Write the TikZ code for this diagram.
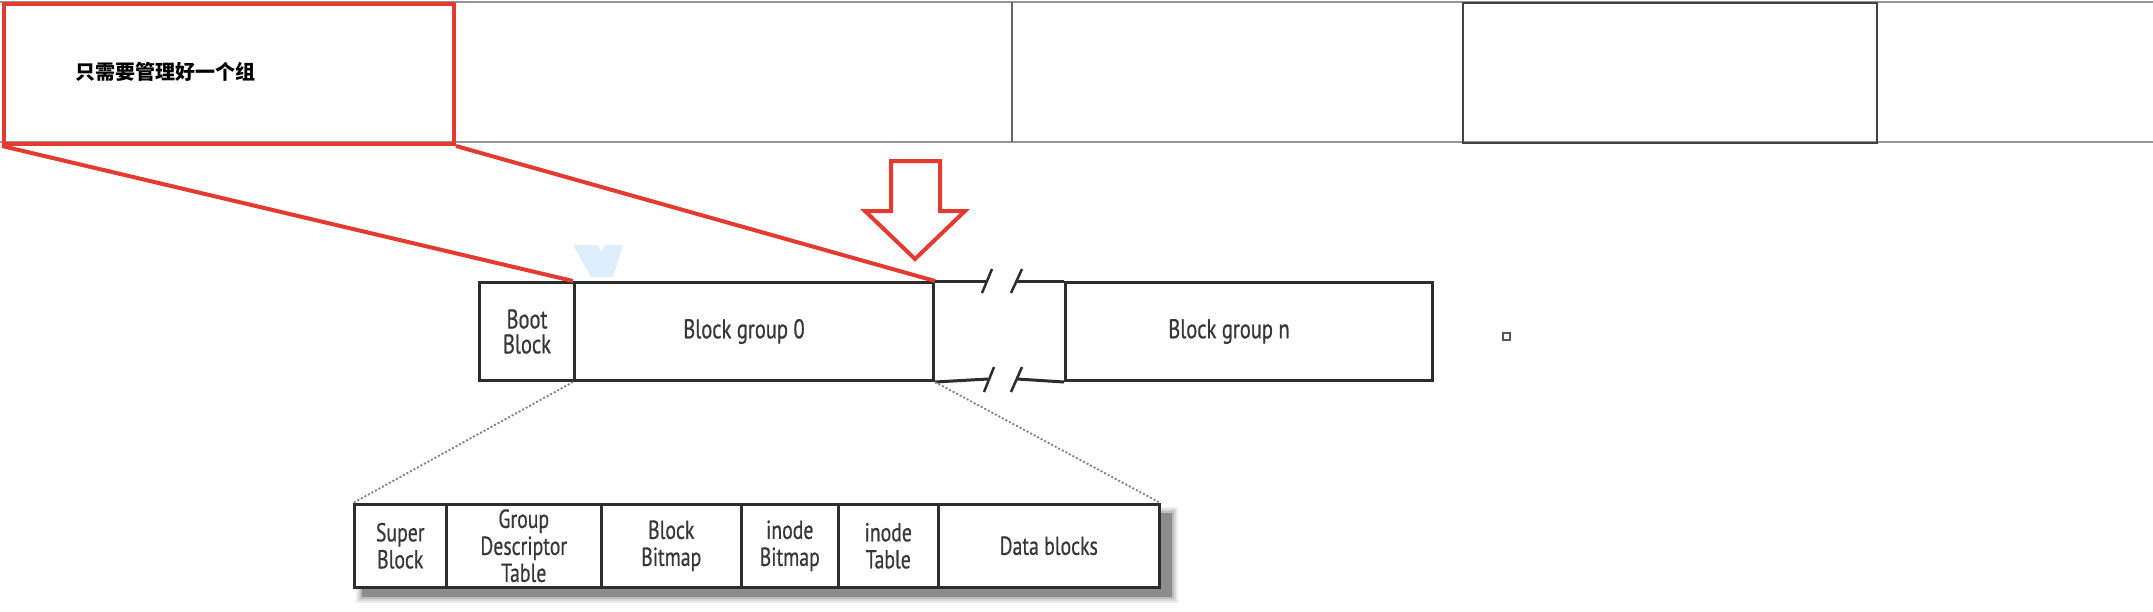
\documentclass[tikz,border=0pt]{standalone}
\usepackage{fontspec}
\newfontfamily\cjk{Noto Sans CJK SC}
\newfontfamily\diag[FakeStretch=0.76,FakeBold=0.6]{PT Sans}
\definecolor{redline}{RGB}{228,58,48}
\definecolor{txt}{RGB}{55,55,55}
\definecolor{frame}{RGB}{45,45,45}
\definecolor{toprule}{RGB}{150,150,150}
\definecolor{wm}{RGB}{222,238,250}
\tikzset{
  barbox/.style={draw=frame, line width=3pt, inner sep=0pt, anchor=north west, font=\diag\fontsize{27}{26}\selectfont, text=txt, align=center},
  subbox/.style={draw=frame, line width=2.5pt, inner sep=0pt, anchor=north west, fill=white, font=\diag\fontsize{26}{27}\selectfont, text=txt, align=center},
  redpen/.style={draw=redline, line width=4pt},
  dots/.style={draw=gray, line width=1.8pt, dash pattern=on 2pt off 2pt},
  cell/.style={inner sep=0pt, anchor=north west}
}
\begin{document}
\begin{tikzpicture}[x=1pt,y=-1pt]
\useasboundingbox (0,0) rectangle (2153,611);
\fill[white] (0,0) rectangle (2153,611);
% top row
\draw[toprule, line width=2pt] (0,2) -- (2153,2);
\draw[toprule, line width=2pt] (0,142) -- (2153,142);
\draw[draw=gray!80!black, line width=1.5pt] (1012,2) -- (1012,142);
\node[cell, draw=frame!90, line width=2pt, minimum width=414pt, minimum height=140pt] (c4) at (1462,2) {};
\node[cell, redpen, minimum width=450pt, minimum height=140pt] (red) at (2,2) {};
\node[anchor=west, inner sep=0pt, font=\cjk\bfseries\fontsize{20}{22}\selectfont] (note) at (75,72) {只需要管理好一个组};
% watermark
\fill[wm] (573,245) -- (598,245) -- (601,252) -- (605,245) -- (623,245) -- (613,277) -- (591,277) -- cycle;
% main bar
\node[barbox, minimum width=95pt, minimum height=98pt] (boot) at (478,281) {Boot\\[-1pt]Block};
\node[barbox, minimum width=359pt, minimum height=98pt] (bg0) at (573,281) {\hspace*{-20pt}Block group 0};
\node[barbox, minimum width=367pt, minimum height=98pt] (bgn) at (1064,281) {\hspace*{-40pt}Block group n};
\coordinate (t1) at (987,281);
\coordinate (t2) at (1016,281);
\coordinate (b1) at (988,379);
\coordinate (b2) at (1017,379);
\draw[frame, line width=3pt] (bg0.north east) -- (t1);
\draw[frame, line width=3pt] (t2) -- (bgn.north west);
\draw[frame, line width=3pt] (bg0.south east) -- (b1);
\draw[frame, line width=3pt] (b2) -- (bgn.south west);
\draw[frame, line width=2.5pt] (992,269) -- (982,293);
\draw[frame, line width=2.5pt] (1022,269) -- (1011,293);
\draw[frame, line width=2.5pt] (994,367) -- (984,392);
\draw[frame, line width=2.5pt] (1022,367) -- (1011,392);
% red connectors
\draw[redpen] (red.south west) -- (bg0.north west);
\draw[redpen] (red.south east) -- (bg0.north east);
% red arrow
\draw[redline, line width=4pt, line join=miter] (891,161) -- (940,161) -- (940,211) -- (965,211) -- (915,259) -- (865,211) -- (891,211) -- cycle;
% small square
\draw[gray!70!black, line width=1.5pt] (1503,333) rectangle (1510,340);
% shadow
\foreach \i/\o in {6/0.07,4/0.09,2/0.12,0/0.25} {
  \fill[black, opacity=\o] (362-\i,513-\i) rectangle (1172+\i,597+\i);
}
% sub row
\node[subbox, minimum width=92pt, minimum height=83pt] (sb) at (353,503) {Super\\Block};
\node[subbox, minimum width=155pt, minimum height=83pt] (gdt) at (445,503) {Group\\Descriptor\\Table};
\node[subbox, minimum width=140pt, minimum height=83pt] (bbm) at (600,503) {Block\\Bitmap};
\node[subbox, minimum width=97pt, minimum height=83pt] (ibm) at (740,503) {inode\\Bitmap};
\node[subbox, minimum width=100pt, minimum height=83pt] (it) at (837,503) {inode\\Table};
\node[subbox, minimum width=221pt, minimum height=83pt] (db) at (937,503) {Data blocks};
% dotted connectors
\draw[dots] (bg0.south west) -- (sb.north west);
\draw[dots] (bg0.south east) -- (db.north east);
\end{tikzpicture}
\end{document}
